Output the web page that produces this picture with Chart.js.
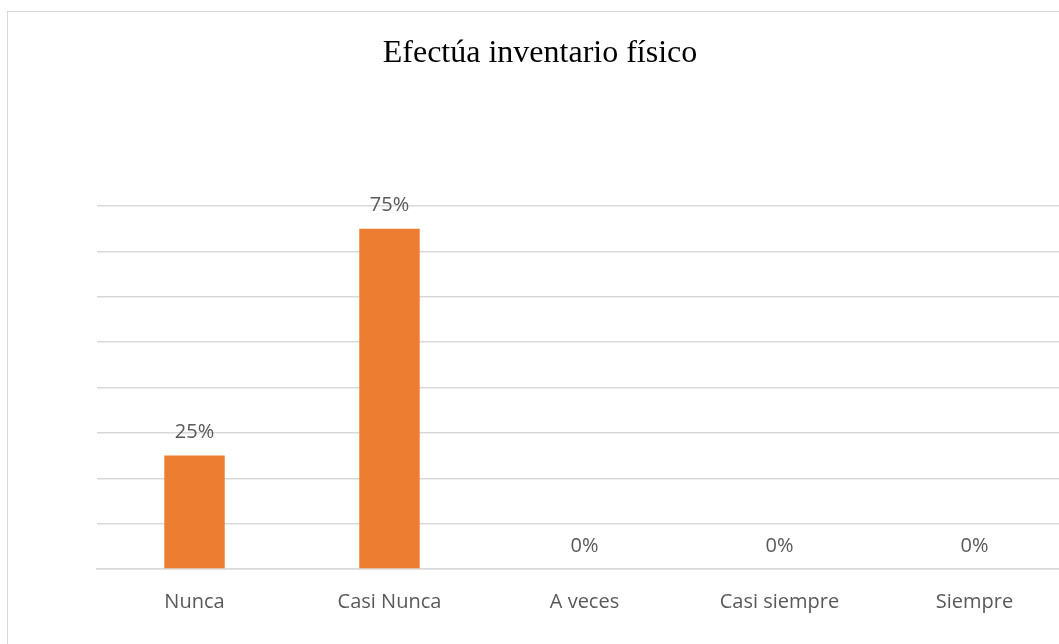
<!DOCTYPE html>
<html>
<head>
<meta charset="utf-8">
<script src="https://cdn.jsdelivr.net/npm/chart.js@4.4.0/dist/chart.umd.min.js"></script>
<style>
  html, body { margin: 0; padding: 0; background: #fff; overflow: hidden; width: 1059px; height: 644px; }
  #frame { position: absolute; left: 7px; top: 11px; width: 1080px; height: 660px; border: 1.5px solid #d9d9d9; box-sizing: border-box; }
  #wrap { position: absolute; left: 7px; top: 11px; width: 1066px; height: 633px; }
</style>
</head>
<body>
<div id="frame"></div>
<div id="wrap"><canvas id="c"></canvas></div>
<script>
const categories = ["Nunca", "Casi Nunca", "A veces", "Casi siempre", "Siempre"];
const values = [25, 75, 0, 0, 0];
const valueLabels = ["25%", "75%", "0%", "0%", "0%"];
const chartTitle = "Efectúa inventario físico";

const labelPlugin = {
  id: 'valueLabels',
  afterDatasetsDraw(chart) {
    const ctx = chart.ctx;
    const meta = chart.getDatasetMeta(0);
    ctx.save();
    ctx.font = '20px "Open Sans", sans-serif';
    ctx.fillStyle = '#595959';
    ctx.textAlign = 'center';
    ctx.textBaseline = 'middle';
    meta.data.forEach((bar, i) => {
      ctx.fillText(valueLabels[i], bar.x, bar.y - 23);
    });
    ctx.restore();
  }
};

const titlePlugin = {
  id: 'centerTitle',
  afterDraw(chart) {
    const ctx = chart.ctx;
    ctx.save();
    ctx.font = '32px "Liberation Serif", "Times New Roman", serif';
    ctx.fillStyle = '#000';
    ctx.textAlign = 'center';
    ctx.textBaseline = 'middle';
    ctx.fillText(chartTitle, chart.width / 2, 43);
    ctx.restore();
  }
};

new Chart(document.getElementById('c'), {
  type: 'bar',
  data: {
    labels: categories,
    datasets: [{
      data: values,
      backgroundColor: '#ED7D31',
      borderWidth: 0,
      barPercentage: 0.62,
      categoryPercentage: 0.5
    }]
  },
  options: {
    responsive: true,
    maintainAspectRatio: false,
    animation: false,
    events: [],
    layout: { padding: { left: 90, right: 1, top: 195, bottom: 9 } },
    plugins: {
      legend: { display: false },
      tooltip: { enabled: false },
      title: { display: false }
    },
    scales: {
      x: {
        grid: { display: false, drawTicks: false },
        border: { display: true, color: '#d9d9d9', width: 1.5 },
        ticks: { color: '#595959', font: { family: '"Open Sans", sans-serif', size: 20 }, padding: 21 }
      },
      y: {
        min: 0, max: 80,
        ticks: { display: false, stepSize: 10 },
        grid: { color: '#d9d9d9', lineWidth: 1.5, drawTicks: false },
        border: { display: false }
      }
    }
  },
  plugins: [labelPlugin, titlePlugin]
});
</script>
</body>
</html>
